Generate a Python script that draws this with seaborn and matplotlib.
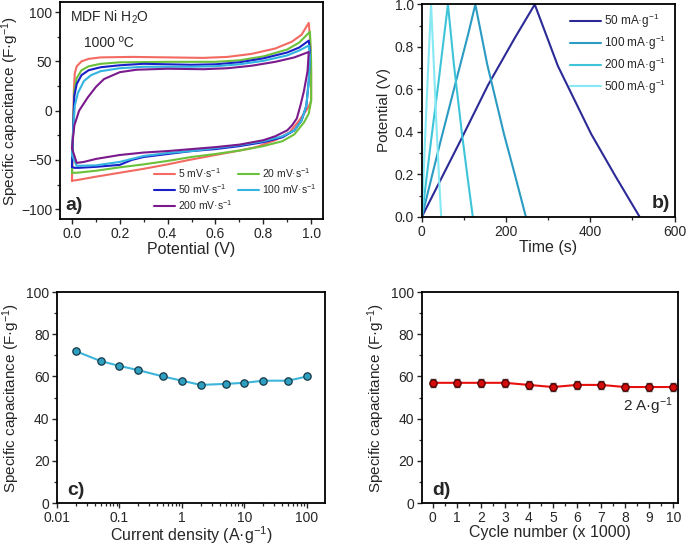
import numpy as np
import pandas as pd
import matplotlib
matplotlib.use("Agg")
import matplotlib.pyplot as plt
from matplotlib.ticker import MultipleLocator, LogLocator, NullFormatter
import seaborn as sns

# ---- a) cyclic voltammetry (potential V, capacitance F/g), loop traced in order
cv_labels = ["5 mV·s$^{-1}$", "20 mV·s$^{-1}$", "50 mV·s$^{-1}$",
             "100 mV·s$^{-1}$", "200 mV·s$^{-1}$"]
cv_colors = ["#f26a62", "#6cc13a", "#1a1fc8", "#33b3e0", "#7a1a8c"]

cv5_v = [0.0, 0.003, 0.008, 0.012, 0.02, 0.04, 0.07, 0.12, 0.25, 0.4, 0.55, 0.65, 0.75, 0.85, 0.92, 0.96, 0.99,
         0.995, 1.0, 1.0, 0.99, 0.97, 0.95, 0.91, 0.85, 0.77, 0.7, 0.6, 0.49, 0.4, 0.3, 0.2, 0.1, 0.02, 0.0]
cv5_c = [-71, -40, 20, 38, 45, 50, 52.5, 54, 54.5, 54, 53.5, 54.5, 57.5, 63, 70, 77, 89,
         75, 40, 10, 4, -3, -10, -22, -30, -37, -40.5, -45, -50, -54.5, -59, -63, -67, -70.5, -71]

cv20_v = [0.0, 0.005, 0.01, 0.02, 0.04, 0.07, 0.12, 0.2, 0.4, 0.6, 0.7, 0.8, 0.9, 0.95, 0.995,
          1.0, 1.0, 0.99, 0.97, 0.93, 0.88, 0.8, 0.7, 0.6, 0.5, 0.4, 0.3, 0.2, 0.1, 0.02, 0.0]
cv20_c = [-63, -20, 20, 33, 41, 45, 47.5, 49, 49.5, 49.5, 51, 55, 62, 69, 80,
          50, 10, -3, -12, -24, -31, -36, -40.5, -44, -47, -51, -54.5, -57.5, -61, -63, -63]

cv50_v = [0.0, 0.005, 0.01, 0.02, 0.04, 0.07, 0.12, 0.2, 0.3, 0.5, 0.6, 0.7, 0.8, 0.9, 0.95, 0.99,
          0.995, 0.99, 0.98, 0.96, 0.93, 0.88, 0.8, 0.7, 0.6, 0.5, 0.4, 0.3, 0.25, 0.2, 0.1, 0.03, 0.01, 0.0]
cv50_c = [-57, -20, 15, 27, 36, 41, 44, 46, 47.5, 46.5, 47, 49, 53, 59, 64, 71,
          60, 30, 5, -10, -20, -27, -32, -36, -39, -41, -44, -47, -50, -55, -57, -58, -58, -57]

cv100_v = [0.0, 0.005, 0.012, 0.025, 0.05, 0.08, 0.12, 0.2, 0.3, 0.5, 0.6, 0.7, 0.8, 0.9, 0.95, 0.99,
           0.995, 0.99, 0.98, 0.96, 0.93, 0.88, 0.8, 0.7, 0.6, 0.5, 0.4, 0.3, 0.2, 0.1, 0.02, 0.0]
cv100_c = [-45, -20, 5, 18, 30, 36, 40, 43, 44.5, 44.5, 45, 47, 50.5, 56, 61, 66,
           55, 30, 5, -10, -20, -26, -31, -35, -38, -41, -43, -46, -52, -55.5, -56, -45]

cv200_v = [0.0, 0.01, 0.03, 0.065, 0.1, 0.134, 0.2, 0.27, 0.4, 0.55, 0.65, 0.75, 0.85, 0.93, 0.99,
           0.985, 0.97, 0.955, 0.94, 0.92, 0.9, 0.85, 0.8, 0.7, 0.6, 0.5, 0.4, 0.3, 0.2, 0.1, 0.05, 0.02, 0.0]
cv200_c = [-38, -15, 0, 13, 24, 32, 39, 41.5, 42.5, 42, 43, 45.5, 49.5, 54, 59.5,
           40, 20, 5, -8, -15, -20, -26, -30, -34.5, -37, -39, -41, -42.5, -45, -49, -52, -53, -38]

cv_v = [cv5_v, cv20_v, cv50_v, cv100_v, cv200_v]
cv_c = [cv5_c, cv20_c, cv50_c, cv100_c, cv200_c]

# ---- b) galvanostatic charge/discharge (time s, potential V)
gcd_labels = ["50 mA·g$^{-1}$", "100 mA·g$^{-1}$", "200 mA·g$^{-1}$", "500 mA·g$^{-1}$"]
gcd_colors = ["#2b2a96", "#2a9bc2", "#3ec4d9", "#86e8f2"]

gcd50_t = [0, 92, 157, 220, 268, 323, 402, 460, 517]
gcd50_v = [0.0, 0.36, 0.62, 0.84, 1.0, 0.71, 0.39, 0.19, 0.0]
gcd100_t = [0, 45, 80, 110, 127, 155, 195, 222, 247]
gcd100_v = [0.0, 0.36, 0.63, 0.86, 1.0, 0.72, 0.39, 0.19, 0.0]
gcd200_t = [0, 22, 40, 54, 62, 76, 96, 109, 121]
gcd200_v = [0.0, 0.36, 0.64, 0.87, 1.0, 0.72, 0.38, 0.18, 0.0]
gcd500_t = [0, 8, 15, 22, 28, 35, 41, 46]
gcd500_v = [0.0, 0.38, 0.70, 1.0, 0.74, 0.42, 0.18, 0.0]

gcd_t = [gcd50_t, gcd100_t, gcd200_t, gcd500_t]
gcd_v = [gcd50_v, gcd100_v, gcd200_v, gcd500_v]

# ---- c) rate capability
current_density = [0.02, 0.05, 0.1, 0.2, 0.5, 1, 2, 5, 10, 20, 50, 100]
rate_cap = [72, 67.3, 65, 63, 60, 58, 56, 56.5, 57, 58, 58, 60]

# ---- d) cycling stability
cycles = [0, 1, 2, 3, 4, 5, 6, 7, 8, 9, 10]
cycle_cap = [57, 57, 57, 57, 56, 55, 56, 56, 55, 55, 55]
cycle_err = [2, 2, 2, 2, 2, 2, 2, 2, 2, 2, 2]

sns.set_style("ticks")
plt.rcParams["font.family"] = ["Liberation Sans", "DejaVu Sans"]
plt.rcParams["mathtext.fontset"] = "custom"
plt.rcParams["mathtext.rm"] = "Liberation Sans"
plt.rcParams["mathtext.it"] = "Liberation Sans:italic"
plt.rcParams["xtick.direction"] = "out"
plt.rcParams["ytick.direction"] = "out"

fig = plt.figure(figsize=(6.87, 5.45), dpi=100)
ax_a = fig.add_axes([0.0873, 0.598, 0.383, 0.398])
ax_b = fig.add_axes([0.614, 0.602, 0.368, 0.391])
ax_c = fig.add_axes([0.083, 0.077, 0.390, 0.387])
ax_d = fig.add_axes([0.614, 0.077, 0.373, 0.387])

xlab_fs = 11.5
ylab_fs = 11
tick_fs = 10

def style(ax):
    for s in ax.spines.values():
        s.set_linewidth(1.3)
        s.set_color("black")
    ax.tick_params(which="major", length=3.5, width=1.0, pad=2, labelsize=tick_fs, top=False, right=False)
    ax.tick_params(which="minor", length=2.2, width=0.9, top=False, right=False)

# a)
lines_a = []
for v, c, col, lab in zip(cv_v, cv_c, cv_colors, cv_labels):
    sns.lineplot(x=v, y=c, sort=False, estimator=None, color=col, lw=1.5, ax=ax_a)
    lines_a.append(ax_a.lines[-1])
ax_a.set_xlim(-0.05, 1.05)
ax_a.set_ylim(-110, 110)
ax_a.xaxis.set_major_locator(MultipleLocator(0.2))
ax_a.xaxis.set_minor_locator(MultipleLocator(0.1))
ax_a.yaxis.set_major_locator(MultipleLocator(50))
ax_a.yaxis.set_minor_locator(MultipleLocator(25))
ax_a.set_xlabel("Potential (V)", fontsize=xlab_fs, labelpad=1)
ax_a.set_ylabel("Specific capacitance (F·g$^{-1}$)", fontsize=ylab_fs, labelpad=0)
order = [0, 2, 4, 1, 3]
ax_a.legend([lines_a[i] for i in order], [cv_labels[i] for i in order],
            loc="lower right", ncol=2, frameon=False, fontsize=7.5, handlelength=2.0,
            columnspacing=0.5, handletextpad=0.3, labelspacing=0.2,
            bbox_to_anchor=(1.01, -0.01))
ax_a.text(0.04, 0.93, "MDF Ni H$_2$O", transform=ax_a.transAxes, fontsize=10, va="center")
ax_a.text(0.09, 0.81, "1000 ºC", transform=ax_a.transAxes, fontsize=10, va="center")
ax_a.text(0.02, 0.04, "a)", transform=ax_a.transAxes, fontsize=14, fontweight="bold")
style(ax_a)

# b)
for t, v, col, lab in zip(gcd_t, gcd_v, gcd_colors, gcd_labels):
    sns.lineplot(x=t, y=v, sort=False, estimator=None, color=col, lw=1.5, label=lab, ax=ax_b)
ax_b.set_xlim(0, 600)
ax_b.set_ylim(0, 1.003)
ax_b.xaxis.set_major_locator(MultipleLocator(200))
ax_b.xaxis.set_minor_locator(MultipleLocator(100))
ax_b.yaxis.set_major_locator(MultipleLocator(0.2))
ax_b.yaxis.set_minor_locator(MultipleLocator(0.1))
ax_b.yaxis.set_major_formatter(matplotlib.ticker.FormatStrFormatter("%.1f"))
ax_b.set_xlabel("Time (s)", fontsize=xlab_fs, labelpad=1)
ax_b.set_ylabel("Potential (V)", fontsize=ylab_fs, labelpad=3)
ax_b.legend(loc="upper right", frameon=False, fontsize=8.5, handlelength=2.6,
            handletextpad=0.3, labelspacing=0.3, borderaxespad=0.3)
ax_b.text(0.91, 0.04, "b)", transform=ax_b.transAxes, fontsize=14, fontweight="bold")
style(ax_b)

# c)
sns.lineplot(x=current_density, y=rate_cap, color="#3db5da", lw=1.5, ax=ax_c)
sns.scatterplot(x=current_density, y=rate_cap, color="#2f9fc0", edgecolor="#163848",
                linewidth=0.9, s=28, zorder=3, ax=ax_c)
ax_c.set_xscale("log")
ax_c.set_xlim(0.01, 195)
ax_c.set_ylim(0, 100)
ax_c.xaxis.set_major_locator(LogLocator(base=10))
ax_c.xaxis.set_minor_locator(LogLocator(base=10, subs=np.arange(2, 10)))
ax_c.xaxis.set_minor_formatter(NullFormatter())
ax_c.xaxis.set_major_formatter(matplotlib.ticker.FuncFormatter(lambda x, p: f"{x:g}"))
ax_c.yaxis.set_major_locator(MultipleLocator(20))
ax_c.yaxis.set_minor_locator(MultipleLocator(10))
ax_c.set_xlabel("Current density (A·g$^{-1}$)", fontsize=xlab_fs, labelpad=0)
ax_c.set_ylabel("Specific capacitance (F·g$^{-1}$)", fontsize=ylab_fs, labelpad=3)
ax_c.text(0.04, 0.04, "c)", transform=ax_c.transAxes, fontsize=14, fontweight="bold")
style(ax_c)

# d)
ax_d.errorbar(cycles, cycle_cap, yerr=cycle_err, fmt="none", ecolor="#555555",
              elinewidth=1.0, capsize=2.5, zorder=2)
sns.lineplot(x=cycles, y=cycle_cap, color="#e8100c", lw=1.5, ax=ax_d)
sns.scatterplot(x=cycles, y=cycle_cap, color="#d40c0c", edgecolor="#4a0000",
                linewidth=0.9, s=28, zorder=3, ax=ax_d)
ax_d.set_xlim(-0.45, 10.2)
ax_d.set_ylim(0, 100)
ax_d.xaxis.set_major_locator(MultipleLocator(1))
ax_d.xaxis.set_minor_locator(MultipleLocator(0.5))
ax_d.yaxis.set_major_locator(MultipleLocator(20))
ax_d.yaxis.set_minor_locator(MultipleLocator(10))
ax_d.set_xlabel("Cycle number (x 1000)", fontsize=xlab_fs, labelpad=0)
ax_d.set_ylabel("Specific capacitance (F·g$^{-1}$)", fontsize=ylab_fs, labelpad=3)
ax_d.text(7.9, 43.5, "2 A·g$^{-1}$", fontsize=11)
ax_d.text(0.04, 0.04, "d)", transform=ax_d.transAxes, fontsize=14, fontweight="bold")
style(ax_d)

fig.savefig("out.png", dpi=100)
